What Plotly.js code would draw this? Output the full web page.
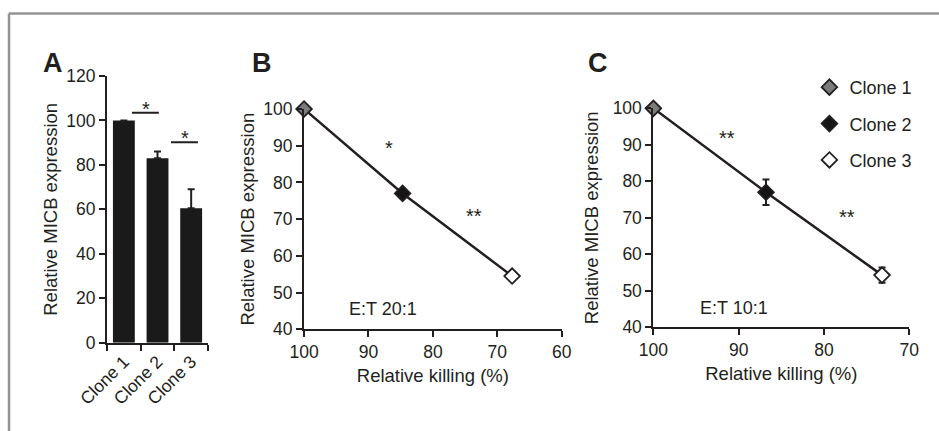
<!DOCTYPE html>
<html>
<head>
<meta charset="utf-8">
<script src="https://cdn.plot.ly/plotly-3.0.1.min.js"></script>
<style>html,body{margin:0;padding:0;background:#fff;}#chart{width:939px;height:431px;}</style>
</head>
<body>
<div id="chart"></div>
<script>
// ---- data ----
const clones = ['Clone 1', 'Clone 2', 'Clone 3'];
// Panel A: relative MICB expression (bar) with SEM (Clone 1 is the reference, no error)
const barExpr = [100, 83, 60.5];
const barErr = [null, 3, 8.5];
// Panel B: E:T 20:1
const killB = [100, 84.7, 67.7];
const exprB = [100, 77, 54.5];
const errB = [0, 1, 0];
// Panel C: E:T 10:1
const killC = [100, 86.8, 73.2];
const exprC = [100, 77, 54.3];
const errC = [1.2, 3.5, 2.1];
const markerFill = ['#7b7b7b', '#151515', '#ffffff'];

const INK = '#231f20';
const FONT = '"Liberation Sans", Arial, Helvetica, sans-serif';

const traces = [];
traces.push({
  type: 'bar', x: clones, y: barExpr, xaxis: 'x', yaxis: 'y',
  marker: {color: '#1a1a1a', line: {width: 0}},
  error_y: {type: 'data', array: barErr, arrayminus: barErr.map(() => 0), symmetric: false,
            color: INK, thickness: 2, width: 3.5},
  showlegend: false, hoverinfo: 'skip'
});
// connecting lines
traces.push({type: 'scatter', mode: 'lines', x: killB, y: exprB, xaxis: 'x2', yaxis: 'y2',
  line: {color: INK, width: 2.5}, showlegend: false, cliponaxis: false, hoverinfo: 'skip'});
traces.push({type: 'scatter', mode: 'lines', x: killC, y: exprC, xaxis: 'x3', yaxis: 'y3',
  line: {color: INK, width: 2.5}, showlegend: false, cliponaxis: false, hoverinfo: 'skip'});
// points
clones.forEach((c, i) => {
  traces.push({type: 'scatter', mode: 'markers', x: [killB[i]], y: [exprB[i]], xaxis: 'x2', yaxis: 'y2',
    marker: {symbol: 'diamond', size: 12, color: markerFill[i], line: {color: INK, width: 1.8}},
    error_y: {type: 'data', array: [errB[i]], color: INK, thickness: 2, width: 3.5, visible: errB[i] > 0},
    name: c, showlegend: false, cliponaxis: false, legendgroup: c});
  traces.push({type: 'scatter', mode: 'markers', x: [killC[i]], y: [exprC[i]], xaxis: 'x3', yaxis: 'y3',
    marker: {symbol: 'diamond', size: 12, color: markerFill[i], line: {color: INK, width: 1.8}},
    error_y: {type: 'data', array: [errC[i]], color: INK, thickness: 2, width: 3.5},
    name: c, showlegend: true, cliponaxis: false, legendgroup: c});
});

const axBase = {
  showline: true, linecolor: INK, linewidth: 2, ticks: 'outside', ticklen: 6, tickwidth: 2,
  tickcolor: INK, showgrid: false, zeroline: false, fixedrange: true,
  tickfont: {family: FONT, size: 17.5, color: INK}
};
const ttl = (t, s) => ({text: t, font: {family: FONT, size: 18.5, color: INK}, standoff: s});
const star = {family: FONT, size: 20, color: INK};

const layout = {
  width: 939, height: 431,
  margin: {l: 0, r: 0, t: 0, b: 0},
  paper_bgcolor: '#fff', plot_bgcolor: 'rgba(0,0,0,0)',
  font: {family: FONT, color: INK},
  bargap: 0.35,
  xaxis: Object.assign({}, axBase, {domain: [0.1140, 0.2215], anchor: 'y', type: 'category',
    tickson: 'boundaries', tickangle: -45, ticklen: 6}),
  yaxis: Object.assign({}, axBase, {domain: [0.2049, 0.8237], anchor: 'x', range: [0, 120], dtick: 20,
    title: ttl('Relative MICB expression', 4)}),
  xaxis2: Object.assign({}, axBase, {domain: [0.3238, 0.5982], anchor: 'y2', range: [100, 60], dtick: 10,
    title: ttl('Relative killing (%)', 8)}),
  yaxis2: Object.assign({}, axBase, {domain: [0.2360, 0.7471], anchor: 'x2', range: [40, 100], dtick: 10,
    title: ttl('Relative MICB expression', 4)}),
  xaxis3: Object.assign({}, axBase, {domain: [0.6958, 0.9684], anchor: 'y3', range: [100, 70], dtick: 10,
    title: ttl('Relative killing (%)', 8)}),
  yaxis3: Object.assign({}, axBase, {domain: [0.2406, 0.7487], anchor: 'x3', range: [40, 100], dtick: 10,
    title: ttl('Relative MICB expression', 9)}),
  showlegend: true,
  legend: {x: 0.862, y: 0.840, xanchor: 'left', yanchor: 'top', bgcolor: 'rgba(0,0,0,0)',
    font: {family: FONT, size: 18, color: INK}, tracegroupgap: 10, itemwidth: 30},
  shapes: [
    // frame
    {type: 'line', xref: 'paper', yref: 'paper', x0: 0.0096, x1: 1.01, y0: 0.9687, y1: 0.9687,
      line: {color: '#939393', width: 2.5}},
    {type: 'line', xref: 'paper', yref: 'paper', x0: 0.0096, x1: 0.0096, y0: -0.01, y1: 0.9687,
      line: {color: '#939393', width: 2.5}},
    // significance bars panel A
    {type: 'line', xref: 'x', yref: 'y', x0: 0.24, x1: 1.04, y0: 103.5, y1: 103.5,
      line: {color: INK, width: 2}},
    {type: 'line', xref: 'x', yref: 'y', x0: 1.4, x1: 2.2, y0: 90.2, y1: 90.2,
      line: {color: INK, width: 2}}
  ],
  annotations: [
    {text: '<b>A</b>', xref: 'paper', yref: 'paper', x: 52.5 / 939, y: 1 - 62.7 / 431, showarrow: false,
      font: {family: FONT, size: 27, color: INK}, xanchor: 'center', yanchor: 'middle'},
    {text: '<b>B</b>', xref: 'paper', yref: 'paper', x: 261.7 / 939, y: 1 - 63.3 / 431, showarrow: false,
      font: {family: FONT, size: 27, color: INK}, xanchor: 'center', yanchor: 'middle'},
    {text: '<b>C</b>', xref: 'paper', yref: 'paper', x: 598 / 939, y: 1 - 63.3 / 431, showarrow: false,
      font: {family: FONT, size: 27, color: INK}, xanchor: 'center', yanchor: 'middle'},
    {text: '*', xref: 'x', yref: 'y', x: 0.65, y: 103.5, yanchor: 'bottom', yshift: -9, showarrow: false, font: star},
    {text: '*', xref: 'x', yref: 'y', x: 1.82, y: 90.2, yanchor: 'bottom', yshift: -9, showarrow: false, font: star},
    {text: '*', xref: 'x2', yref: 'y2', x: 86.8, y: 91.1, yshift: -6, showarrow: false, font: star},
    {text: '**', xref: 'x2', yref: 'y2', x: 73.6, y: 72.0, yshift: -4, showarrow: false, font: star},
    {text: 'E:T 20:1', xref: 'x2', yref: 'y2', x: 87.7, y: 45.5, showarrow: false,
      font: {family: FONT, size: 18, color: INK}},
    {text: '**', xref: 'x3', yref: 'y3', x: 91.4, y: 93.2, yshift: -5, showarrow: false, font: star},
    {text: '**', xref: 'x3', yref: 'y3', x: 77.3, y: 71.4, yshift: -4, showarrow: false, font: star},
    {text: 'E:T 10:1', xref: 'x3', yref: 'y3', x: 90.5, y: 45.3, showarrow: false,
      font: {family: FONT, size: 18, color: INK}}
  ]
};

Plotly.newPlot('chart', traces, layout, {staticPlot: true, displayModeBar: false});
</script>
</body>
</html>
